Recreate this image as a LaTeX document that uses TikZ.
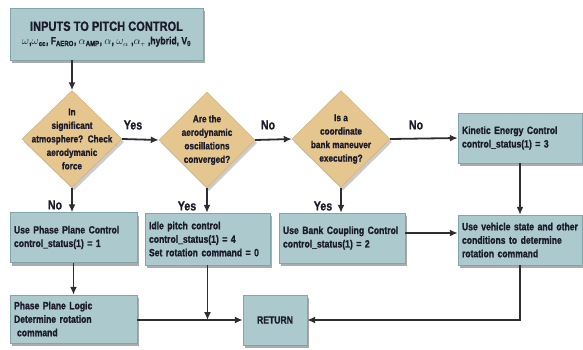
\documentclass[tikz,border=0pt]{standalone}
\usepackage{fontspec}
\usepackage{amsmath}
\newfontfamily\flowfont{Liberation Sans}[FakeStretch=0.82,BoldFeatures={FakeBold=1.2}]
\usetikzlibrary{arrows.meta,positioning,shapes.geometric,shadows}
\definecolor{boxfill}{RGB}{172,202,206}
\definecolor{boxedge}{RGB}{130,165,170}
\definecolor{decfill}{RGB}{229,198,142}
\definecolor{decedge}{RGB}{205,172,112}
\definecolor{ink}{RGB}{28,28,44}
\definecolor{arrowink}{RGB}{45,45,50}
\hyphenpenalty=10000

\begin{document}
\begin{tikzpicture}[
  x=1pt,y=-1pt,
  box/.style={draw=boxedge,fill=boxfill,drop shadow={shadow xshift=2pt,shadow yshift=-3pt,fill=black!60,opacity=0.55},align=left,inner xsep=4pt,text=ink,font=\flowfont\bfseries\fontsize{10.5}{13.5}\selectfont},
  decision/.style={diamond,draw=decedge,fill=decfill,inner sep=0pt,drop shadow={shadow xshift=2pt,shadow yshift=-3pt,fill=black!45,opacity=0.45}},
  dectext/.style={align=center,text=ink,font=\flowfont\bfseries\fontsize{10}{13.5}\selectfont},
  flow/.style={-{Latex[length=8pt,width=7pt]},line width=1.8pt,arrowink},
  answer/.style={text=ink,font=\flowfont\bfseries\fontsize{13}{14}\selectfont}
]
\useasboundingbox (0,0) rectangle (583,349);
\node[box,align=center,minimum width=193pt,minimum height=52pt] (inputs) at (106.5,34)
  {{\fontsize{13.5}{18}\selectfont INPUTS TO PITCH CONTROL}\\
   {\fontsize{10.5}{12}\selectfont $\omega$,$\omega$\textsubscript{cc}, F\textsubscript{AERO}, $\alpha$\textsubscript{AMP}, $\alpha$, $\omega_\alpha$ ,$\alpha_\tau$ ,hybrid, V\textsubscript{0}}};
% decisions
\node[decision,minimum width=100pt,minimum height=97pt] (d1) at (72,139) {};
\node[dectext] (t1) at (d1) {In\\significant\\atmosphere?~~Check\\aerodymanic\\force};
\node[decision,minimum width=96pt,minimum height=96pt] (d2) at (207,140) {};
\node[dectext] (t2) at (d2) {Are the\\aerodynamic\\oscillations\\converged?};
\node[decision,minimum width=98pt,minimum height=97pt] (d3) at (341,139) {};
\node[dectext] (t3) at (d3) {Is a\\coordinate\\bank maneuver\\executing?};
\node[box,text width=116pt,minimum height=50pt] (kinetic) at (520,138) {Kinetic Energy Control\\control\_status(1) = 3};
% second row
\node[box,text width=119pt,minimum height=50pt] (phase) at (73.5,237.5) {Use Phase Plane Control\\control\_status(1) = 1};
\node[box,text width=117pt,minimum height=52pt] (idle) at (207.5,239) {Idle pitch control\\control\_status(1) = 4\\Set rotation command = 0};
\node[box,text width=118pt,minimum height=50pt] (bank) at (342,238) {Use Bank Coupling Control\\control\_status(1) = 2};
\node[box,text width=116pt,minimum height=50pt] (vehicle) at (520,240) {Use vehicle state and other\\conditions to determine\\rotation command};
% third row
\node[box,text width=119pt,minimum height=48pt] (logic) at (73.5,319) {Phase Plane Logic\\Determine rotation\\\hspace{3pt}command};
\node[box,align=center,minimum width=64pt,minimum height=50pt] (return) at (275,320) {RETURN};
% connectors
\draw[flow] (inputs.south -| d1.north) -- (d1.north);
\draw[flow] (d1.east) -- (d2.west);
\draw[flow] (d2.east) -- (d3.west);
\draw[flow] (d3.east) -- (kinetic.west);
\draw[flow] (d1.south) -- (phase.north -| d1.south);
\draw[flow] (d2.south) -- (idle.north -| d2.south);
\draw[flow] (d3.south) -- (bank.north -| d3.south);
\draw[flow] (kinetic.south) -- (vehicle.north -| kinetic.south);
\draw[flow] (bank.east |- 0,233) -- (vehicle.west |- 0,233);
\draw[flow] (phase.south) -- (logic.north);
\coordinate (join) at (idle.south |- return.west);
\draw[flow] (idle.south) -- (join);
\draw[flow] (logic.east |- return.west) -- (return.west);
\draw[flow] (vehicle.south) |- (return.east);
% answers
\node[answer] (yes1) at (133,125) {Yes};
\node[answer] (no2) at (268,125) {No};
\node[answer] (no3) at (416,125) {No};
\node[answer] (no1) at (55,205) {No};
\node[answer] (yes2) at (187,206) {Yes};
\node[answer] (yes3) at (323,206) {Yes};
\end{tikzpicture}
\end{document}
